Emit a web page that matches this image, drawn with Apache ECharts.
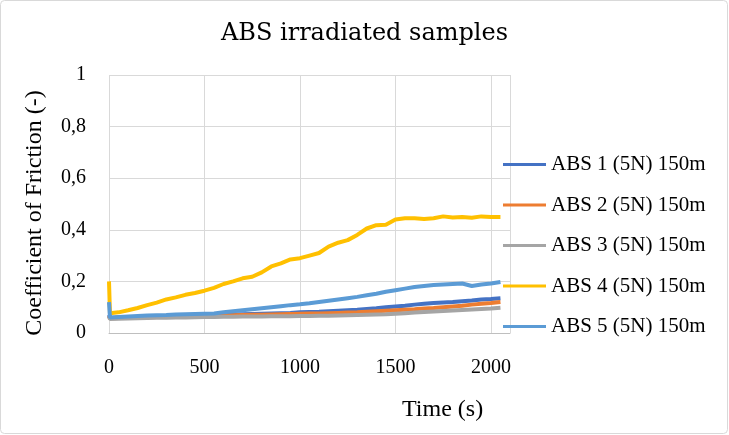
<!DOCTYPE html>
<html>
<head>
<meta charset="utf-8">
<script src="https://cdn.jsdelivr.net/npm/echarts@6/dist/echarts.min.js"></script>
<style>html,body{margin:0;padding:0;background:#fff}#c{width:729px;height:435px}</style>
</head>
<body>
<div id="c"></div>
<script>
var times = [0,5,50,100,150,200,250,300,350,400,450,500,550,600,650,700,750,800,850,900,950,1000,1050,1100,1150,1200,1250,1300,1350,1400,1450,1500,1550,1600,1650,1700,1750,1800,1850,1900,1950,2000,2050];
var seriesNames = ['ABS 1 (5N) 150m','ABS 2 (5N) 150m','ABS 3 (5N) 150m','ABS 4 (5N) 150m','ABS 5 (5N) 150m'];
var abs1 = [0.07,0.058,0.06,0.061,0.062,0.063,0.064,0.065,0.066,0.067,0.068,0.069,0.07,0.071,0.072,0.073,0.074,0.075,0.076,0.077,0.078,0.08,0.081,0.082,0.084,0.086,0.088,0.09,0.093,0.096,0.1,0.103,0.106,0.11,0.113,0.116,0.118,0.12,0.123,0.126,0.13,0.132,0.135];
var abs2 = [0.066,0.057,0.058,0.059,0.06,0.061,0.062,0.063,0.064,0.065,0.066,0.067,0.068,0.068,0.069,0.07,0.071,0.071,0.072,0.073,0.074,0.075,0.076,0.076,0.077,0.078,0.079,0.08,0.082,0.084,0.086,0.088,0.09,0.092,0.095,0.097,0.1,0.103,0.106,0.11,0.113,0.116,0.12];
var abs3 = [0.064,0.054,0.055,0.056,0.057,0.058,0.059,0.059,0.06,0.06,0.061,0.062,0.062,0.063,0.063,0.064,0.064,0.064,0.065,0.065,0.065,0.066,0.066,0.067,0.067,0.068,0.069,0.07,0.071,0.072,0.073,0.075,0.077,0.079,0.081,0.083,0.085,0.087,0.089,0.091,0.093,0.095,0.098];
var abs4 = [0.2,0.077,0.08,0.088,0.097,0.108,0.118,0.13,0.138,0.148,0.155,0.164,0.175,0.19,0.2,0.212,0.218,0.235,0.258,0.27,0.285,0.29,0.3,0.31,0.335,0.35,0.36,0.38,0.405,0.418,0.42,0.44,0.445,0.445,0.442,0.445,0.452,0.448,0.45,0.447,0.452,0.45,0.45];
var abs5 = [0.12,0.06,0.062,0.064,0.066,0.068,0.069,0.07,0.072,0.073,0.074,0.075,0.076,0.08,0.084,0.088,0.092,0.096,0.1,0.104,0.108,0.111,0.115,0.12,0.125,0.13,0.135,0.14,0.146,0.152,0.16,0.166,0.172,0.178,0.182,0.186,0.188,0.19,0.192,0.182,0.188,0.192,0.198];
var colors = ['#4472C4','#ED7D31','#A5A5A5','#FFC000','#5B9BD5'];
var xTicks = [0,500,1000,1500,2000];
var yTicks = [0,0.2,0.4,0.6,0.8,1];

var font = 'Liberation Serif';
var all = [abs1,abs2,abs3,abs4,abs5];
var series = all.map(function(arr,i){
  return {
    name: seriesNames[i], type:'line', showSymbol:false, symbol:'none',
    data: times.map(function(t,j){return [t,arr[j]];}),
    lineStyle:{width:4,color:colors[i]}, itemStyle:{color:colors[i]},
    emphasis:{disabled:true}, animation:false
  };
});
var chart = echarts.init(document.getElementById('c'));
chart.setOption({
  backgroundColor:'#fff',
  animation:false,
  color: colors,
  title:[{text:'ABS irradiated samples',left:'center',top:22,padding:0,textStyle:{fontFamily:'DejaVu Serif',fontSize:24,fontWeight:'normal',color:'#000'}},
         {text:'Time (s)',left:402,top:398,padding:0,textStyle:{fontFamily:font,fontSize:24,fontWeight:'normal',color:'#000'}}],
  grid:{left:109,right:219,top:75,bottom:102},
  legend:{orient:'vertical',left:498,top:149,itemWidth:43,itemHeight:3,icon:'rect',itemGap:19.5,
    textStyle:{fontFamily:font,fontSize:21,color:'#000'}},
  xAxis:{type:'value',min:0,max:2100,interval:500,
    axisLine:{show:true,lineStyle:{color:'#bfbfbf'}},axisTick:{show:false},
    splitLine:{show:true,lineStyle:{color:'#d9d9d9'}},
    axisLabel:{margin:25,fontFamily:font,fontSize:20,color:'#000',
      formatter:function(v){return xTicks.indexOf(v)>=0?String(v):'';}}},
  yAxis:{type:'value',min:0,max:1,interval:0.2,
    name:'Coefficient of Friction (-)',nameLocation:'middle',nameGap:62,
    nameTextStyle:{fontFamily:font,fontSize:24,color:'#000',padding:[0,18,0,0]},
    axisLine:{show:false},axisTick:{show:false},
    splitLine:{show:true,lineStyle:{color:'#d9d9d9'}},
    axisLabel:{margin:23,fontFamily:font,fontSize:20,color:'#000',
      formatter:function(v){var m=yTicks.filter(function(t){return Math.abs(t-v)<1e-9;});return m.length?String(Math.round(v*10)/10).replace('.',','):'';}}},
  graphic:[{type:'rect',shape:{x:0.5,y:0.5,width:727,height:433,r:4},style:{fill:'none',stroke:'#d9d9d9',lineWidth:1},silent:true}],
  series: series
});
</script>
</body>
</html>
